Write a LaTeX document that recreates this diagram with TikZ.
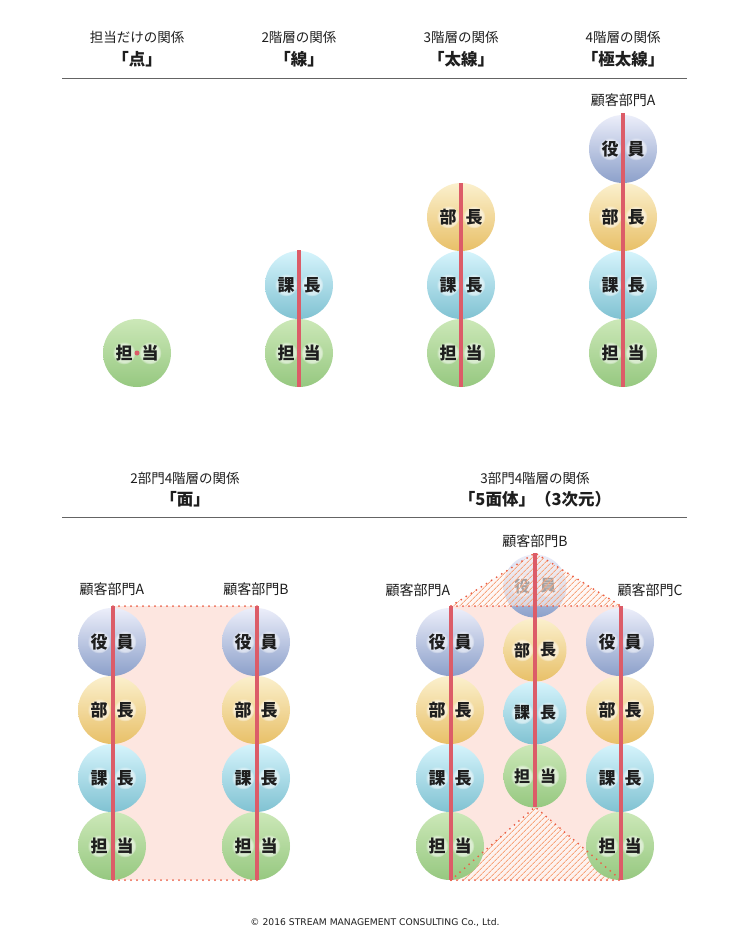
\documentclass[tikz,border=0pt]{standalone}
\usepackage{fontspec}
\setmainfont{DejaVu Sans}
\newfontfamily\jp{Noto Sans CJK JP}
\usetikzlibrary{calc,patterns.meta,fadings}
\definecolor{yakuT}{RGB}{236,238,250}
\definecolor{yakuB}{RGB}{140,160,202}
\definecolor{buT}{RGB}{251,240,205}
\definecolor{buB}{RGB}{232,192,104}
\definecolor{kaT}{RGB}{214,244,252}
\definecolor{kaB}{RGB}{128,194,210}
\definecolor{taT}{RGB}{204,232,184}
\definecolor{taB}{RGB}{150,200,128}
\definecolor{redl}{RGB}{220,92,104}
\definecolor{dotc}{RGB}{235,95,70}
\definecolor{pinkf}{RGB}{253,230,224}
\definecolor{hatch}{RGB}{247,165,125}
\definecolor{txt}{RGB}{30,30,30}
\definecolor{sep}{RGB}{100,100,100}
\def\chs{17}
\tikzset{
 ball/.style={circle,minimum size=68pt,inner sep=0pt,draw=none},
 small/.style={minimum size=63pt},
 yaku/.style={top color=yakuT,bottom color=yakuB},
 bu/.style={top color=buT,bottom color=buB},
 ka/.style={top color=kaT,bottom color=kaB},
 ta/.style={top color=taT,bottom color=taB},
 chr/.style={font=\jp\bfseries\fontsize{\chs}{\chs}\selectfont,text=txt,inner sep=0pt},
 glow/.style={white,opacity=0.55,path fading=circle with fuzzy edge 20 percent},
 redline/.style={draw=redl,line width=4pt},
 dotl/.style={draw=dotc,line width=2pt,line cap=round,dash pattern=on 0pt off 6pt},
 head/.style={font=\jp\fontsize{13.5}{14}\selectfont,text=txt},
 headb/.style={font=\jp\bfseries\fontsize{16.5}{17}\selectfont,text=txt},
 dept/.style={font=\jp\fontsize{14}{14}\selectfont,text=txt},
 hatchfill/.style={pattern={Lines[angle=45,distance=4pt,line width=1pt]},pattern color=hatch},
}
\newcommand\gch[3]{%
 \fill[glow] (#1,#2) circle (11.5);
 \node[chr] at (#1,#2) {#3};}
\newcommand\ball[7][]{%
 \node[ball,#5,#1] (#2) at (#3,#4) {};
 \gch{#3-13}{#4}{#6}\gch{#3+13}{#4}{#7}}
\begin{document}
\begin{tikzpicture}[x=1pt,y=-1pt]
\useasboundingbox (0,0) rectangle (750,950);
\fill[white] (0,0) rectangle (750,950);
% ---------- top headers
\node[head] (h1a) at (137,37) {担当だけの関係};
\node[headb] (h1b) at (137,59) {「点」};
\node[head] (h2a) at (299,37) {2階層の関係};
\node[headb] (h2b) at (299,59) {「線」};
\node[head] (h3a) at (461,37) {3階層の関係};
\node[headb] (h3b) at (461,59) {「太線」};
\node[head] (h4a) at (623,37) {4階層の関係};
\node[headb] (h4b) at (623,59) {「極太線」};
\draw[sep,line width=1pt] (62,78) -- (687,78);
% ---------- column 1
\ball{c1ta}{137}{353}{ta}{担}{当}
\fill[redl] (137,353) circle (2.5);
% ---------- column 2
\ball{c2ka}{299}{285}{ka}{課}{長}
\ball{c2ta}{299}{353}{ta}{担}{当}
\coordinate (c2t) at (299,250);
\coordinate (c2b) at (299,387);
\draw[redline] (c2t) -- (c2b);
% ---------- column 3
\ball{c3bu}{461}{217}{bu}{部}{長}
\ball{c3ka}{461}{285}{ka}{課}{長}
\ball{c3ta}{461}{353}{ta}{担}{当}
\coordinate (c3t) at (461,183);
\coordinate (c3b) at (461,387);
\draw[redline] (c3t) -- (c3b);
% ---------- column 4
\node[dept] (d4) at (623,100) {顧客部門A};
\ball{c4ya}{623}{149}{yaku}{役}{員}
\ball{c4bu}{623}{217}{bu}{部}{長}
\ball{c4ka}{623}{285}{ka}{課}{長}
\ball{c4ta}{623}{353}{ta}{担}{当}
\coordinate (c4t) at (623,113);
\coordinate (c4b) at (623,387);
\draw[redline] (c4t) -- (c4b);
% ---------- bottom headers
\node[head] (h5a) at (185,478) {2部門4階層の関係};
\node[headb] (h5b) at (185,499) {「面」};
\node[head] (h6a) at (535,478) {3部門4階層の関係};
\node[headb] (h6b) at (535,499) {「5面体」（3次元）};
\draw[sep,line width=1pt] (62,517) -- (687,517);
% ---------- 2 departments
\coordinate (lAt) at (113,606);
\coordinate (lAb) at (113,880);
\coordinate (lBt) at (257,606);
\coordinate (lBb) at (257,880);
\fill[pinkf] (lAt) rectangle (lBb);
\node[dept] (dlA) at (112,589) {顧客部門A};
\node[dept] (dlB) at (256,589) {顧客部門B};
\ball{lAya}{112}{642}{yaku}{役}{員}
\ball{lAbu}{112}{710}{bu}{部}{長}
\ball{lAka}{112}{778}{ka}{課}{長}
\ball{lAta}{112}{846}{ta}{担}{当}
\ball{lBya}{256}{642}{yaku}{役}{員}
\ball{lBbu}{256}{710}{bu}{部}{長}
\ball{lBka}{256}{778}{ka}{課}{長}
\ball{lBta}{256}{846}{ta}{担}{当}
\draw[dotl] (lAt) -- (lBt);
\draw[dotl] (lAb) -- (lBb);
\draw[redline] (lAt) -- (lAb);
\draw[redline] (lBt) -- (lBb);
% ---------- 3 departments
\coordinate (rAt) at (451,606);
\coordinate (rAb) at (451,880);
\coordinate (rCt) at (621,606);
\coordinate (rCb) at (621,880);
\coordinate (rBt) at (535,553);
\coordinate (rBb) at (535,807);
\fill[pinkf] (rAt) rectangle (rCb);
\fill[white] (rAb) -- (rBb) -- (rCb) -- cycle;
\fill[pinkf,opacity=0.5] (rAb) -- (rBb) -- (rCb) -- cycle;
\fill[hatchfill] (rAb) -- (rBb) -- (rCb) -- cycle;
\node[dept] (drA) at (418,590) {顧客部門A};
\node[dept] (drB) at (535,541) {顧客部門B};
\node[dept] (drC) at (650,590) {顧客部門C};
\def\chs{16}
\ball[small]{rBya}{535}{586}{yaku}{役}{員}
\ball[small]{rBbu}{535}{650}{bu}{部}{長}
\ball[small]{rBka}{535}{713}{ka}{課}{長}
\ball[small]{rBta}{535}{776}{ta}{担}{当}
\def\chs{17}
\fill[white,opacity=0.45] (rAt) -- (rBt) -- (rCt) -- cycle;
\fill[pinkf,opacity=0.3] (rAt) -- (rBt) -- (rCt) -- cycle;
\fill[hatchfill] (rAt) -- (rBt) -- (rCt) -- cycle;
\ball{rAya}{450}{642}{yaku}{役}{員}
\ball{rAbu}{450}{710}{bu}{部}{長}
\ball{rAka}{450}{778}{ka}{課}{長}
\ball{rAta}{450}{846}{ta}{担}{当}
\ball{rCya}{620}{642}{yaku}{役}{員}
\ball{rCbu}{620}{710}{bu}{部}{長}
\ball{rCka}{620}{778}{ka}{課}{長}
\ball{rCta}{620}{846}{ta}{担}{当}
\draw[dotl] (rAt) -- (rCt);
\draw[dotl] (rAt) -- (rBt) -- (rCt);
\draw[dotl] (rAb) -- (rCb);
\draw[dotl] (rAb) -- (rBb) -- (rCb);
\draw[redline] (rAt) -- (rAb);
\draw[redline] (rCt) -- (rCb);
\draw[redline] (rBt) -- (rBb);
% ---------- footer
\node[font=\fontsize{9.2}{9}\selectfont,text=txt] (foot) at (375,923) {© 2016 STREAM MANAGEMENT CONSULTING Co., Ltd.};
\end{tikzpicture}
\end{document}
